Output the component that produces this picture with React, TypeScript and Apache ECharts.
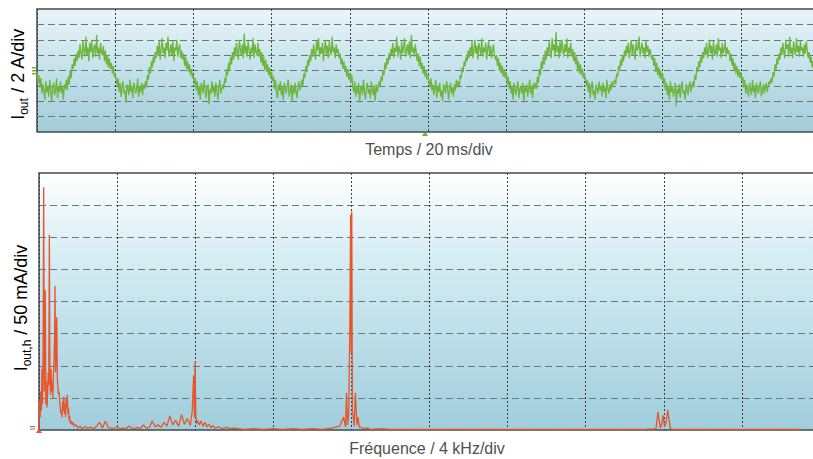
import React, { useEffect, useRef } from "react";
import * as echarts from "echarts";

// ---- Data ----
// Top trace: output current I_out (A), one sample every 0.25 ms over 200 ms (10 div x 20 ms)
const SAMPLE_MS = 0.25;
const currentA: number[] = [
  // 0-20 ms
  -0.2, -1.6, -0.6, -2.2, -1.0, -3.0, -1.8, -2.6, -3.8, -1.4, -2.8, -2.0, -3.4, -1.2, -2.4, -4.0, -2.2, -1.6, -3.2, -2.6,
  -1.0, -3.6, -2.0, -2.8, -1.4, -3.0, -2.2, -3.8, -1.8, -2.4, -1.2,
  -2.6, -0.8, -1.8, 0.0, -1.0, 0.8, 0.2, 1.6, 0.6, 2.2, 1.2, 2.6,
  1.6, 3.4, 2.2, 1.4, 3.8, 2.6, 1.8, 4.4, 2.0, 3.0, 1.2, 3.6, 2.4, 4.0, 1.6, 2.8, 3.4, 1.8, 4.6, 2.2, 3.0, 1.4, 3.6, 2.4, 2.0, 3.2,
  1.2, 2.6, 0.8, 2.0, 0.4, 1.6, 0.2, 1.0, -0.4, 0.6, -0.8,
  // 20-40 ms
  -0.4, -1.2, -2.0, -1.0, -2.8, -1.6, -3.4, -2.2, -1.4, -3.0, -2.6, -4.2, -1.8, -2.4, -3.2, -1.2, -2.8, -2.0, -3.6, -1.6,
  -2.2, -3.0, -2.6, -1.0, -3.4, -2.0, -2.8, -1.6, -3.2, -1.8, -2.4,
  -1.4, -2.2, -0.6, -1.2, 0.4, -0.4, 1.2, 0.4, 1.8, 1.0, 2.4, 1.6,
  3.2, 2.0, 3.8, 1.4, 2.8, 4.2, 2.2, 3.0, 1.6, 3.6, 2.6, 4.4, 1.8, 2.4, 3.4, 2.0, 3.8, 1.2, 3.0, 2.6, 4.0, 1.8, 2.8, 3.4, 1.6, 2.6,
  1.4, 2.2, 0.6, 1.8, 0.2, 1.2, -0.2, 0.8, -0.6, 0.2, -1.0,
  // 40-60 ms
  -0.6, -1.8, -1.0, -2.6, -1.4, -3.2, -2.0, -3.8, -1.6, -2.4, -3.0, -1.2, -2.6, -3.6, -2.2, -1.8, -4.4, -2.4, -3.0, -1.4,
  -2.8, -2.0, -3.4, -1.6, -2.6, -3.8, -2.2, -1.2, -3.0, -2.4, -1.8,
  -2.4, -1.0, -1.6, 0.2, -0.6, 1.0, 0.0, 1.8, 0.8, 2.4, 1.4, 3.0,
  1.8, 3.6, 2.4, 1.4, 4.0, 2.8, 2.0, 3.4, 1.6, 4.8, 2.2, 3.2, 1.8, 3.8, 2.6, 1.4, 3.0, 2.2, 4.2, 1.6, 3.4, 2.4, 2.0, 3.6, 1.8, 2.8,
  1.0, 2.4, 0.6, 1.8, 0.0, 1.4, -0.2, 0.8, -0.6, 0.4, -1.0,
  // 60-80 ms
  -0.2, -1.4, -0.8, -2.4, -1.2, -2.8, -3.6, -1.8, -2.6, -1.4, -3.2, -2.2, -3.8, -1.6, -2.4, -3.0, -2.0, -1.2, -3.4, -2.6,
  -1.8, -4.0, -2.2, -3.0, -1.6, -2.8, -3.6, -2.0, -1.4, -2.6, -2.0,
  -1.2, -2.0, -0.4, -1.0, 0.6, -0.2, 1.4, 0.6, 2.0, 1.2, 2.8, 1.8,
  3.4, 2.2, 1.4, 3.8, 2.6, 4.2, 1.8, 3.0, 2.2, 3.6, 1.2, 2.8, 4.0, 2.0, 3.2, 1.6, 3.8, 2.6, 2.0, 4.4, 2.4, 3.0, 1.6, 3.4, 2.2, 2.8,
  1.6, 2.2, 0.8, 1.6, 0.2, 1.2, -0.2, 0.6, -0.8, 0.2, -1.2,
  // 80-100 ms
  -0.4, -1.6, -0.6, -2.0, -2.8, -1.4, -3.4, -2.2, -3.0, -1.6, -4.2, -2.4, -2.0, -3.2, -1.2, -2.8, -3.8, -2.2, -1.6, -3.0,
  -2.4, -3.6, -1.4, -2.6, -3.2, -2.0, -4.0, -1.8, -2.8, -2.2, -1.4,
  -2.2, -0.8, -1.4, 0.0, -0.6, 1.0, 0.2, 1.6, 0.8, 2.2, 1.4, 2.8,
  2.0, 3.6, 1.6, 3.0, 2.4, 4.4, 1.8, 3.2, 2.6, 1.4, 3.8, 2.2, 3.0, 4.2, 1.8, 2.6, 3.4, 2.0, 3.8, 1.6, 4.6, 2.4, 3.0, 1.8, 3.4, 2.4,
  1.2, 2.2, 0.6, 1.8, 0.2, 1.0, -0.4, 0.6, -0.8, 0.0, -1.2,
  // 100-120 ms
  -0.6, -1.4, -2.2, -1.0, -2.6, -1.8, -3.2, -2.4, -1.2, -3.6, -2.0, -2.8, -1.6, -3.4, -2.6, -4.0, -1.8, -2.4, -3.0, -1.4,
  -2.2, -3.8, -2.6, -1.6, -3.0, -2.2, -3.4, -1.8, -2.6, -1.2, -2.2,
  -1.4, -2.0, -0.6, -1.0, 0.4, -0.2, 1.2, 0.6, 1.8, 1.2, 2.6, 1.6,
  3.0, 2.0, 3.8, 1.6, 2.6, 4.0, 2.2, 3.2, 1.4, 3.6, 2.8, 2.0, 4.2, 1.8, 3.0, 2.4, 3.6, 1.4, 2.8, 3.8, 2.0, 3.2, 1.6, 2.6, 3.4, 2.0,
  1.4, 2.0, 0.6, 1.6, 0.0, 1.0, -0.4, 0.6, -0.8, 0.2, -1.0,
  // 120-140 ms
  -0.2, -1.8, -0.8, -2.4, -1.4, -3.0, -2.0, -3.8, -1.6, -2.6, -3.2, -2.2, -1.4, -3.6, -2.4, -2.0, -3.0, -1.6, -4.2, -2.2,
  -2.8, -1.8, -3.4, -2.4, -1.2, -3.0, -2.0, -3.6, -1.6, -2.4, -1.6,
  -2.4, -0.8, -1.6, 0.2, -0.6, 1.2, 0.2, 1.8, 0.8, 2.6, 1.4, 3.0,
  2.0, 3.8, 2.4, 1.6, 4.2, 2.6, 3.4, 1.8, 5.0, 2.4, 3.2, 1.6, 3.8, 2.2, 4.0, 2.8, 1.8, 3.4, 2.4, 4.2, 1.6, 3.0, 2.2, 3.6, 1.8, 2.8,
  1.2, 2.4, 0.8, 1.8, 0.0, 1.2, -0.4, 0.8, -0.6, 0.2, -1.0,
  // 140-160 ms
  -0.4, -1.2, -2.0, -1.2, -2.8, -1.6, -3.6, -2.2, -1.4, -3.2, -2.6, -3.8, -1.8, -2.4, -3.0, -1.4, -2.6, -2.0, -3.4, -1.6,
  -2.8, -2.2, -3.6, -1.2, -2.4, -3.0, -1.8, -2.6, -1.4, -2.2, -1.6,
  -1.2, -1.8, -0.4, -0.8, 0.6, 0.0, 1.4, 0.6, 2.0, 1.2, 2.6, 1.8,
  3.2, 2.2, 3.6, 1.6, 2.8, 4.0, 2.0, 3.4, 2.4, 1.4, 3.8, 2.6, 3.0, 4.4, 1.8, 2.8, 3.6, 2.2, 3.0, 1.6, 4.0, 2.4, 3.2, 1.8, 2.8, 2.2,
  1.4, 2.0, 0.6, 1.6, -0.2, 1.0, -0.6, 0.4, -1.0, 0.0, -1.2,
  // 160-180 ms
  -0.4, -1.8, -1.0, -2.6, -1.6, -3.2, -2.2, -3.8, -1.4, -2.8, -2.0, -3.4, -2.6, -1.6, -4.6, -2.4, -3.0, -1.8, -3.6, -2.2,
  -1.4, -3.0, -2.6, -3.8, -1.8, -2.4, -3.2, -2.0, -1.4, -2.8, -2.0,
  -1.4, -2.2, -0.6, -1.2, 0.4, -0.2, 1.2, 0.4, 1.8, 1.0, 2.4, 1.6,
  3.0, 2.0, 3.6, 1.6, 2.6, 4.0, 2.2, 3.2, 1.4, 3.8, 2.4, 2.0, 3.4, 1.8, 4.2, 2.6, 3.0, 1.6, 3.6, 2.2, 2.8, 3.8, 1.8, 3.0, 2.2, 2.6,
  1.2, 2.2, 0.6, 1.6, 0.0, 1.0, -0.4, 0.6, -0.8, 0.2, -1.0,
  // 180-200 ms
  -0.2, -1.4, -0.8, -2.2, -1.2, -3.0, -1.8, -2.6, -3.4, -1.6, -2.4, -3.2, -1.2, -2.8, -2.0, -3.6, -1.6, -2.4, -3.0, -2.2,
  -1.4, -3.4, -2.6, -1.8, -3.0, -2.2, -1.6, -2.8, -2.0, -1.4, -1.8,
  -1.0, -1.6, -0.2, -0.8, 0.8, 0.0, 1.6, 0.8, 2.2, 1.4, 3.0, 2.0,
  3.6, 2.4, 1.6, 4.0, 2.8, 3.4, 1.8, 4.4, 2.2, 3.0, 1.6, 3.8, 2.6, 2.0, 4.2, 2.4, 3.2, 1.8, 3.8, 2.6, 3.0, 1.8, 3.4, 2.2, 3.8, 2.6,
  1.6, 2.4, 1.0, 1.8, 0.4, 1.2, 0.0, 0.8, -0.4, 0.4, -0.6,
  0.0,
];

// Bottom trace: harmonic spectrum I_out,h (mA) versus frequency (kHz)
const spectrumKHz: number[] = [
  0, 0.03, 0.06, 0.09, 0.12, 0.15, 0.18, 0.21, 0.24, 0.27, 0.3, 0.32, 0.35, 0.38, 0.41, 0.44, 0.47, 0.5, 0.53, 0.56,
  0.59, 0.62, 0.65, 0.68, 0.71, 0.74, 0.77, 0.8, 0.82, 0.85, 0.88, 0.91, 0.94, 0.97, 1.0, 1.03, 1.06, 1.09, 1.12, 1.15,
  1.18, 1.21, 1.24, 1.27, 1.3, 1.33, 1.36, 1.39, 1.42, 1.45, 1.48, 1.51, 1.54, 1.57, 1.6, 1.65, 1.7, 1.75, 1.8,
  1.9, 2.0, 2.1, 2.2, 2.35, 2.5, 2.65, 2.8, 2.95, 3.1, 3.25, 3.4, 3.55, 3.7, 3.85, 4.0, 4.15, 4.3, 4.45, 4.6, 4.75,
  4.9, 5.05, 5.2, 5.35, 5.5, 5.65, 5.8, 5.95, 6.1, 6.25, 6.4, 6.55, 6.7, 6.85, 7.0, 7.15, 7.3, 7.45, 7.6, 7.75, 7.85,
  7.92, 7.96, 7.99, 8.03, 8.07, 8.12, 8.2, 8.3, 8.4, 8.5, 8.6, 8.7, 8.8, 8.9, 9.0, 9.2, 9.4, 9.6, 9.8, 10.0,
  10.5, 11.0, 11.5, 12.0, 12.5, 13.0, 13.5, 14.0, 14.5, 15.0, 15.4, 15.6, 15.7, 15.75, 15.8, 15.86, 15.92, 15.96, 15.99,
  16.02, 16.05, 16.09, 16.14, 16.2, 16.28, 16.34, 16.4, 16.46, 16.6, 16.8, 17.0, 17.5, 18.0, 19.0, 20.0, 21.0, 22.0,
  23.0, 24.0, 25.0, 26.0, 27.0, 28.0, 29.0, 30.0, 31.0, 31.6, 31.7, 31.82, 31.9, 31.96, 32.04, 32.12, 32.2, 32.33,
  32.42, 32.6, 33.0, 34.0, 35.0, 36.0, 37.0, 38.0, 39.0, 40.0,
];
const spectrumMA: number[] = [
  0, 45, 20, 60, 30, 95, 40, 120, 378, 60, 110, 218, 40, 75, 35, 55, 90, 70, 304, 80,
  55, 95, 60, 75, 50, 85, 110, 150, 224, 90, 130, 176, 80, 65, 55, 60, 45, 35, 25, 30,
  20, 45, 30, 52, 25, 40, 20, 48, 35, 55, 25, 35, 15, 22, 10, 14, 8, 12, 6,
  8, 3, 6, 2, 5, 3, 4, 2, 6, 12, 3, 14, 4, 3, 2, 5, 2, 3, 2, 6,
  3, 2, 4, 2, 8, 3, 4, 14, 5, 8, 4, 12, 6, 22, 8, 15, 6, 24, 9, 18, 7,
  30, 85, 20, 106, 25, 10, 15, 8, 14, 6, 12, 5, 9, 4, 7, 3, 5, 2, 4, 2,
  3, 1, 2, 1, 2, 1, 2, 1, 2, 1, 3, 6, 20, 5, 58, 8, 25, 160, 335,
  120, 340, 30, 22, 6, 58, 8, 20, 4, 5, 2, 3, 1, 2, 1, 1, 1, 1,
  1, 1, 1, 1, 1, 1, 1, 1, 1, 1, 2, 28, 3, 10, 23, 5, 12, 31,
  3, 1, 1, 1, 1, 1, 1, 1, 1, 1,
];

const TIME_AXIS = { min: 0, max: 200, step: 20 }; // ms
const CURRENT_AXIS = { min: -8, max: 8, step: 2 }; // A
const FREQ_AXIS = { min: 0, max: 40, step: 4 }; // kHz
const HARM_AXIS = { min: 0, max: 400, step: 50 }; // mA

const xLabelTop = "Temps / 20\u2009ms/div";
const xLabelBottom = "Fréquence / 4 kHz/div";

// ---- Styling ----
const FONT = "'Liberation Sans', Arial, Helvetica, sans-serif";
const TEXT_COLOR = "#505050";
const GREEN = "#6db63e";
const RED = "#e8552b";

export default function App() {
  const ref = useRef<HTMLDivElement>(null);

  useEffect(() => {
    if (!ref.current) return;
    const chart = echarts.init(ref.current, undefined, { renderer: "svg" });

    const gradTop = new echarts.graphic.LinearGradient(0, 0, 0, 1, [
      { offset: 0, color: "#eaf5f8" },
      { offset: 0.5, color: "#c3e1ea" },
      { offset: 1, color: "#a2ccd9" },
    ]);
    const gradBottom = new echarts.graphic.LinearGradient(0, 0, 0, 1, [
      { offset: 0, color: "#ffffff" },
      { offset: 0.3, color: "#d8eef4" },
      { offset: 1, color: "#a0cddc" },
    ]);

    const splitX = { show: true, lineStyle: { color: "#3c4348", type: [2, 2], width: 1 } };
    const splitY = { show: true, lineStyle: { color: "#67787f", type: [7, 4], width: 1.2 } };
    const hidden = {
      axisLine: { show: false },
      axisTick: { show: false },
      axisLabel: { show: false },
    };

    const richLabel = (main: number, sub: number) => ({
      a: { fontSize: main, fontFamily: FONT, color: TEXT_COLOR, lineHeight: main + 6, verticalAlign: "middle" },
      b: { fontSize: sub, fontFamily: FONT, color: TEXT_COLOR, lineHeight: main + 6, verticalAlign: "bottom" },
    });

    chart.setOption({
      animation: false,
      backgroundColor: "#ffffff",
      grid: [
        {
          left: 37, top: 9, width: 782, height: 123, show: true, outerBoundsMode: "none",
          backgroundColor: gradTop, borderColor: "#4a4a4a", borderWidth: 1.5,
        },
        {
          left: 39, top: 173, width: 781, height: 257, show: true, outerBoundsMode: "none",
          backgroundColor: gradBottom, borderColor: "#4a4a4a", borderWidth: 1.5,
        },
      ],
      xAxis: [
        {
          gridIndex: 0, type: "value", min: TIME_AXIS.min, max: TIME_AXIS.max, interval: TIME_AXIS.step,
          ...hidden, splitLine: splitX,
        },
        {
          gridIndex: 1, type: "value", min: FREQ_AXIS.min, max: FREQ_AXIS.max, interval: FREQ_AXIS.step,
          ...hidden, splitLine: splitX,
        },
      ],
      yAxis: [
        {
          gridIndex: 0, type: "value", min: CURRENT_AXIS.min, max: CURRENT_AXIS.max, interval: CURRENT_AXIS.step,
          ...hidden, splitLine: splitY,
        },
        {
          gridIndex: 1, type: "value", min: HARM_AXIS.min, max: HARM_AXIS.max, interval: HARM_AXIS.step,
          ...hidden, splitLine: splitY,
        },
      ],
      series: [
        {
          type: "line", xAxisIndex: 0, yAxisIndex: 0,
          data: currentA.map((v, i) => [i * SAMPLE_MS, v]),
          showSymbol: false, silent: true,
          lineStyle: { color: GREEN, width: 1.3 },
        },
        {
          type: "line", xAxisIndex: 1, yAxisIndex: 1,
          data: spectrumKHz.map((f, i) => [f, spectrumMA[i]]),
          showSymbol: false, silent: true,
          lineStyle: { color: RED, width: 1.3 },
        },
      ],
      graphic: [
        {
          type: "text", x: 429, y: 149,
          style: { text: xLabelTop, fontSize: 16, fontFamily: FONT, fill: TEXT_COLOR, align: "center", verticalAlign: "middle" },
        },
        {
          type: "text", x: 427, y: 448,
          style: { text: xLabelBottom, fontSize: 16, fontFamily: FONT, fill: TEXT_COLOR, align: "center", verticalAlign: "middle" },
        },
        {
          type: "text", x: 18, y: 74, rotation: Math.PI / 2,
          style: {
            text: "{a|I}{b|out}{a| / 2 A/div}", rich: richLabel(18, 12),
            align: "center", verticalAlign: "middle",
          },
        },
        {
          type: "text", x: 21, y: 308, rotation: Math.PI / 2,
          style: {
            text: "{a|I}{b|out,h}{a| / 50 mA/div}", rich: richLabel(18, 12),
            align: "center", verticalAlign: "middle",
          },
        },
        // trigger marker under top plot
        { type: "polygon", shape: { points: [[422, 136], [428, 136], [425, 131]] }, style: { fill: GREEN } },
        // ground marker on left of top plot
        { type: "rect", shape: { x: 32, y: 67, width: 4, height: 1.5 }, style: { fill: GREEN } },
        { type: "rect", shape: { x: 32, y: 70, width: 4, height: 1.5 }, style: { fill: GREEN } },
        { type: "rect", shape: { x: 32, y: 73, width: 4, height: 1.5 }, style: { fill: GREEN } },
        // markers on bottom plot origin
        { type: "polygon", shape: { points: [[36, 433], [42, 433], [39, 428]] }, style: { fill: RED } },
        { type: "rect", shape: { x: 30, y: 426, width: 5, height: 1 }, style: { fill: RED } },
        { type: "rect", shape: { x: 30, y: 428.5, width: 5, height: 1 }, style: { fill: RED } },
      ],
    });

    return () => chart.dispose();
  }, []);

  return (
    <div style={{ position: "fixed", left: 0, top: 0, width: 813, height: 459, overflow: "hidden", background: "#fff" }}>
      <div ref={ref} style={{ width: 813, height: 459 }} />
    </div>
  );
}
